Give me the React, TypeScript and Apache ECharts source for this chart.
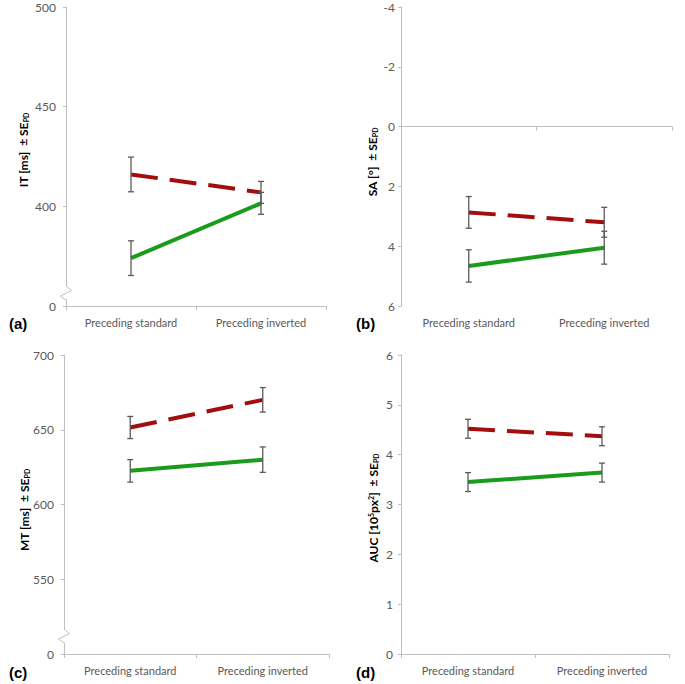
import React, { useEffect, useRef } from 'react';
import * as echarts from 'echarts';

// ---------- data ----------
const categories = ['Preceding standard', 'Preceding inverted'];

// (a) IT [ms]
const itDashed = [416, 407];
const itDashedSE = [8.7, 5.5];
const itSolid = [374, 401.5];
const itSolidSE = [8.7, 5.5];
const itAxis = [350, 500, 50]; // min, max, interval (bottom tick shown as "0", broken axis)

// (b) SA [°]
const saDashed = [2.87, 3.2];
const saDashedSE = [0.53, 0.5];
const saSolid = [4.66, 4.05];
const saSolidSE = [0.54, 0.55];
const saAxis = [-4, 6, 2];

// (c) MT [ms]
const mtDashed = [651.5, 670];
const mtDashedSE = [7.4, 8.2];
const mtSolid = [622.5, 630];
const mtSolidSE = [7.5, 8.5];
const mtAxis = [500, 700, 50];

// (d) AUC [10^5 px^2]
const aucDashed = [4.52, 4.37];
const aucDashedSE = [0.19, 0.19];
const aucSolid = [3.45, 3.64];
const aucSolidSE = [0.19, 0.19];
const aucAxis = [0, 6, 1];

const panelLetters = ['(a)', '(b)', '(c)', '(d)'];

// ---------- styles ----------
const RED = '#a30d0d';
const GREEN = '#1b9b1b';
const AXIS = '#bfbfbf';
const LABEL = '#595959';
const ERR = '#5a5a5a';
const FONT = 'Lato, "Open Sans", sans-serif';

const renderErr = (params: any, api: any) => {
  const i = api.value(0);
  const lo = api.coord([i, api.value(1)]);
  const hi = api.coord([i, api.value(2)]);
  const x = lo[0];
  const st = { stroke: ERR, lineWidth: 1.3 };
  return {
    type: 'group',
    children: [
      { type: 'line', shape: { x1: x, y1: lo[1], x2: x, y2: hi[1] }, style: st },
      { type: 'line', shape: { x1: x - 3, y1: lo[1], x2: x + 3, y2: lo[1] }, style: st },
      { type: 'line', shape: { x1: x - 3, y1: hi[1], x2: x + 3, y2: hi[1] }, style: st },
    ],
  };
};

const errData = (v: number[], se: number[]) => v.map((val, i) => [i, val - se[i], val + se[i]]);

export default function App() {
  const ref = useRef<HTMLDivElement>(null);

  useEffect(() => {
    if (!ref.current) return;
    const chart = echarts.init(ref.current, undefined, { renderer: 'svg' });

    const panels = [
      {
        grid: { left: 66, top: 7, width: 260, height: 299 },
        axis: itAxis, inverse: false, broken: true, labelMargin: 10,
        dashed: itDashed, dashedSE: itDashedSE, solid: itSolid, solidSE: itSolidSE,
      },
      {
        grid: { left: 401, top: 7, width: 271, height: 299 },
        axis: saAxis, inverse: true, broken: false, labelMargin: 6,
        dashed: saDashed, dashedSE: saDashedSE, solid: saSolid, solidSE: saSolidSE,
      },
      {
        grid: { left: 64, top: 355, width: 265, height: 299 },
        axis: mtAxis, inverse: false, broken: true, labelMargin: 10,
        dashed: mtDashed, dashedSE: mtDashedSE, solid: mtSolid, solidSE: mtSolidSE,
      },
      {
        grid: { left: 401, top: 355, width: 268, height: 299 },
        axis: aucAxis, inverse: false, broken: false, labelMargin: 8,
        dashed: aucDashed, dashedSE: aucDashedSE, solid: aucSolid, solidSE: aucSolidSE,
      },
    ];

    const grids: any[] = [];
    const xAxes: any[] = [];
    const yAxes: any[] = [];
    const series: any[] = [];

    panels.forEach((p, gi) => {
      grids.push({ ...p.grid, outerBoundsMode: 'none', containLabel: false });
      const xIndex = xAxes.length;
      xAxes.push({
        type: 'category',
        gridIndex: gi,
        data: categories,
        position: 'bottom',
        boundaryGap: true,
        axisLine: { show: !p.inverse, onZero: false, lineStyle: { color: AXIS, width: 1 } },
        axisTick: { show: !p.inverse, length: 4, lineStyle: { color: AXIS } },
        axisLabel: { color: LABEL, fontSize: 11, fontFamily: FONT, margin: 11 },
        splitLine: { show: false },
      });
      if (p.inverse) {
        xAxes.push({
          type: 'category',
          gridIndex: gi,
          data: categories,
          position: 'top',
          boundaryGap: true,
          axisLine: { show: true, onZero: true, lineStyle: { color: AXIS, width: 1 } },
          axisTick: { show: true, inside: true, length: 4, lineStyle: { color: AXIS } },
          axisLabel: { show: false },
          splitLine: { show: false },
        });
      }
      const [mn, mx, iv] = p.axis;
      yAxes.push({
        type: 'value',
        gridIndex: gi,
        min: mn,
        max: mx,
        interval: iv,
        inverse: p.inverse,
        axisLine: { show: true, lineStyle: { color: AXIS, width: 1 } },
        axisTick: { show: true, length: 3, lineStyle: { color: AXIS } },
        axisLabel: {
          color: LABEL,
          fontSize: 12,
          fontFamily: FONT,
          margin: p.labelMargin,
          formatter: (v: number) => (p.broken && v === mn ? '0' : String(v)),
        },
        splitLine: { show: false },
      });
      const yIndex = gi;
      series.push({
        type: 'line', name: 'dashed', xAxisIndex: xIndex, yAxisIndex: yIndex,
        data: p.dashed, symbol: 'none', z: 2,
        lineStyle: { color: RED, width: 4, type: [27, 12], cap: 'butt' },
      });
      series.push({
        type: 'line', name: 'solid', xAxisIndex: xIndex, yAxisIndex: yIndex,
        data: p.solid, symbol: 'none', z: 2,
        lineStyle: { color: GREEN, width: 4, type: 'solid' },
      });
      series.push({
        type: 'custom', xAxisIndex: xIndex, yAxisIndex: yIndex, z: 3,
        renderItem: renderErr, encode: { x: 0, y: [1, 2] },
        data: errData(p.dashed, p.dashedSE),
      });
      series.push({
        type: 'custom', xAxisIndex: xIndex, yAxisIndex: yIndex, z: 3,
        renderItem: renderErr, encode: { x: 0, y: [1, 2] },
        data: errData(p.solid, p.solidSE),
      });
    });

    const mainRich = { fontSize: 12, fontWeight: 'bold', fontFamily: FONT, fill: '#000' };
    const subRich = { fontSize: 7, fontWeight: 'bold', fontFamily: FONT, fill: '#000', verticalAlign: 'bottom', padding: [5, 0, 0, 0] };
    const supRich = { fontSize: 7, fontWeight: 'bold', fontFamily: FONT, fill: '#000', verticalAlign: 'top', padding: [0, 0, 5, 0] };

    const axisName = (x: number, y: number, text: string) => ({
      type: 'text', x, y, rotation: Math.PI / 2, z: 100,
      style: {
        text, align: 'center', verticalAlign: 'middle',
        rich: { m: mainRich, s: subRich, u: supRich },
      },
    });

    const letter = (x: number, y: number, t: string) => ({
      type: 'text', x, y, z: 100,
      style: {
        text: t, fill: '#000', fontSize: 15, fontWeight: 'bold',
        fontFamily: '"Liberation Sans", Arial, sans-serif', align: 'left', verticalAlign: 'middle',
      },
    });

    const breakMark = (ax: number, y0: number) => [
      { type: 'rect', z: 100, shape: { x: ax - 2, y: y0 + 0.5, width: 4, height: 13 }, style: { fill: '#fff' } },
      {
        type: 'polyline', z: 101,
        shape: { points: [[ax, y0], [ax + 5.5, y0 + 4.5], [ax - 5.5, y0 + 10], [ax, y0 + 14]] },
        style: { stroke: AXIS, lineWidth: 1, fill: 'none' },
      },
    ];

    chart.setOption({
      animation: false,
      backgroundColor: '#fff',
      grid: grids,
      xAxis: xAxes,
      yAxis: yAxes,
      series,
      graphic: [
        axisName(23, 150, '{m|IT [ms]  ± SE}{s|PD}'),
        axisName(372, 162, '{m|SA [°]  ± SE}{s|PD}'),
        axisName(24, 510, '{m|MT [ms]  ± SE}{s|PD}'),
        axisName(373, 508, '{m|AUC [10}{u|5}{m|px}{u|2}{m|]  ± SE}{s|PD}'),
        letter(9, 323, panelLetters[0]),
        letter(356, 323, panelLetters[1]),
        letter(9, 672, panelLetters[2]),
        letter(356, 672, panelLetters[3]),
        ...breakMark(66, 286),
        ...breakMark(64, 629),
      ],
    });

    return () => chart.dispose();
  }, []);

  return (
    <div
      ref={ref}
      style={{ position: 'absolute', left: 0, top: 0, width: 685, height: 684, background: '#fff' }}
    />
  );
}
